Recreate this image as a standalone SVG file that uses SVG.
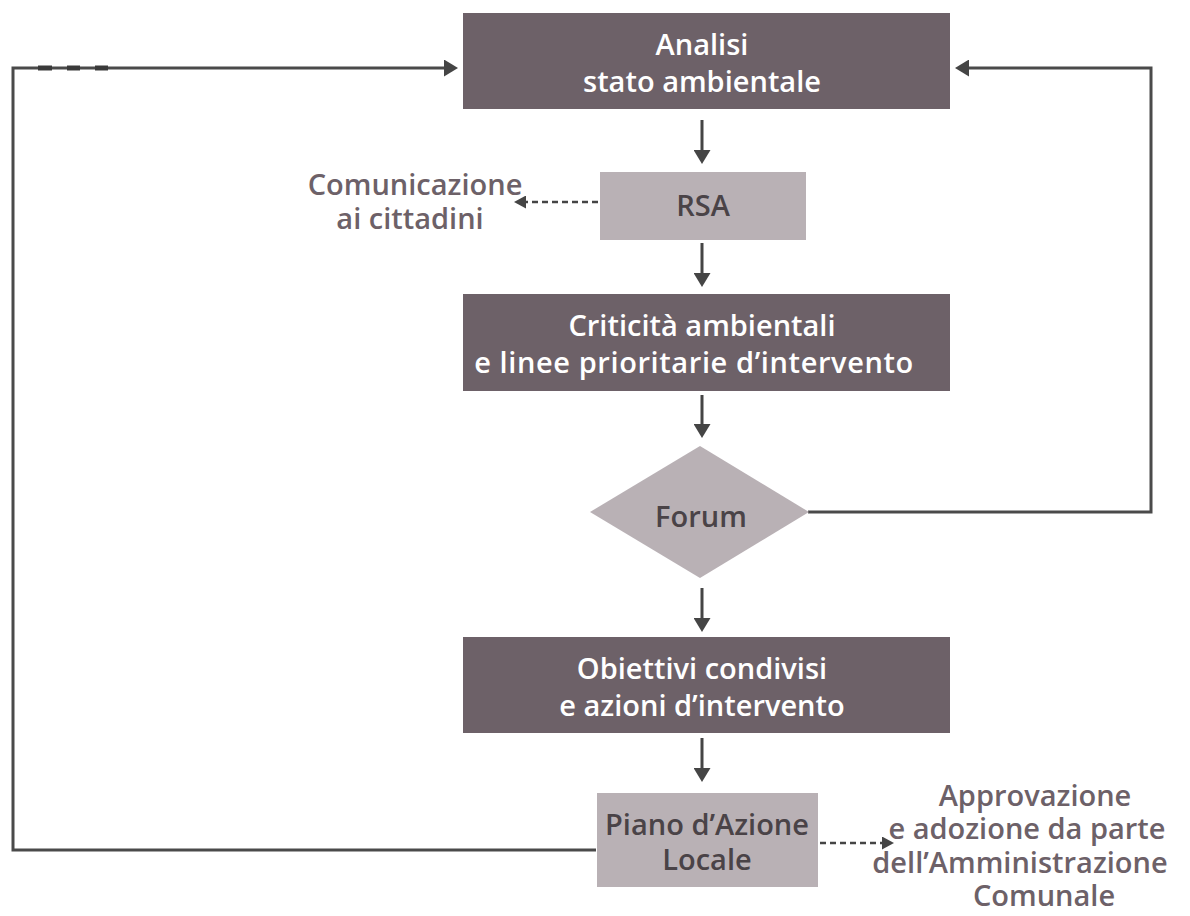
<svg xmlns="http://www.w3.org/2000/svg" width="1190" height="916" viewBox="0 0 1190 916">
  <style>
    .dark { fill: #6d6168; }
    .light { fill: #b9b1b5; }
    text { font-family: "Open Sans", "Liberation Sans", sans-serif; font-weight: 600; font-size: 29px; text-anchor: middle; }
    .wt { fill: #ffffff; }
    .dt { fill: #4a4347; }
    .side { fill: #6d6168; }
    .flow { stroke: #454545; stroke-width: 3; fill: none; }
    .loop { stroke: #4a4a4a; stroke-width: 3; fill: none; }
    .dash { stroke: #454545; stroke-width: 2.5; fill: none; stroke-dasharray: 6 4; }
  </style>
  <defs>
    <marker id="head" viewBox="0 0 14 17" markerWidth="14" markerHeight="17" refX="6" refY="8.5" orient="auto" markerUnits="userSpaceOnUse">
      <path d="M0,0 L14,8.5 L0,17 Z" fill="#454545"/>
    </marker>
    <marker id="headSmall" viewBox="0 0 12 13" markerWidth="12" markerHeight="13" refX="4" refY="6.5" orient="auto" markerUnits="userSpaceOnUse">
      <path d="M0,0 L12,6.5 L0,13 Z" fill="#454545"/>
    </marker>
  </defs>

  <g id="connectors">
    <!-- main vertical flow -->
    <line class="flow" x1="702" y1="120" x2="702" y2="156" marker-end="url(#head)"/>
    <line class="flow" x1="702" y1="243" x2="702" y2="279" marker-end="url(#head)"/>
    <line class="flow" x1="702" y1="395" x2="702" y2="430" marker-end="url(#head)"/>
    <line class="flow" x1="702" y1="588" x2="702" y2="624" marker-end="url(#head)"/>
    <line class="flow" x1="702" y1="738" x2="702" y2="774" marker-end="url(#head)"/>
    <!-- feedback loop from the local action plan back to the analysis -->
    <path class="loop" d="M596,850 H13 V68 H450" marker-end="url(#head)"/>
    <g stroke="#3a3a3a" stroke-width="5">
      <line x1="38" y1="68" x2="52" y2="68"/>
      <line x1="67" y1="68" x2="80" y2="68"/>
      <line x1="95" y1="68" x2="108" y2="68"/>
    </g>
    <!-- feedback loop from the forum back to the analysis -->
    <path class="loop" d="M808,512 H1151 V68 H963" marker-end="url(#head)"/>
    <!-- dashed side outputs -->
    <line class="dash" x1="598" y1="202" x2="522" y2="202" marker-end="url(#headSmall)"/>
    <line class="dash" x1="820" y1="843" x2="886" y2="843" marker-end="url(#headSmall)"/>
  </g>

  <g id="analisi">
    <rect class="dark" x="463" y="13" width="487" height="96"/>
    <text class="wt" x="702" y="55">Analisi</text>
    <text class="wt" x="702" y="92">stato ambientale</text>
  </g>

  <g id="rsa">
    <rect class="light" x="600" y="172" width="206" height="68"/>
    <text class="dt" x="703" y="216">RSA</text>
  </g>

  <g id="comunicazione">
    <text class="side" x="415" y="195">Comunicazione</text>
    <text class="side" x="410" y="229">ai cittadini</text>
  </g>

  <g id="criticita">
    <rect class="dark" x="463" y="294" width="487" height="97"/>
    <text class="wt" x="702" y="336">Criticità ambientali</text>
    <text class="wt" x="694" y="373" letter-spacing="0.6">e linee prioritarie d’intervento</text>
  </g>

  <g id="forum">
    <polygon class="light" points="700,446 809,512 700,578 590,512"/>
    <text class="dt" x="701" y="527">Forum</text>
  </g>

  <g id="obiettivi">
    <rect class="dark" x="463" y="637" width="487" height="96"/>
    <text class="wt" x="702" y="679">Obiettivi condivisi</text>
    <text class="wt" x="702" y="716">e azioni d’intervento</text>
  </g>

  <g id="piano">
    <rect class="light" x="597" y="793" width="221" height="94"/>
    <text class="dt" x="707" y="835">Piano d’Azione</text>
    <text class="dt" x="707" y="870">Locale</text>
  </g>

  <g id="approvazione">
    <text class="side" x="1035" y="806">Approvazione</text>
    <text class="side" x="1027" y="839">e adozione da parte</text>
    <text class="side" x="1020" y="873">dell’Amministrazione</text>
    <text class="side" x="1044" y="906">Comunale</text>
  </g>
</svg>
